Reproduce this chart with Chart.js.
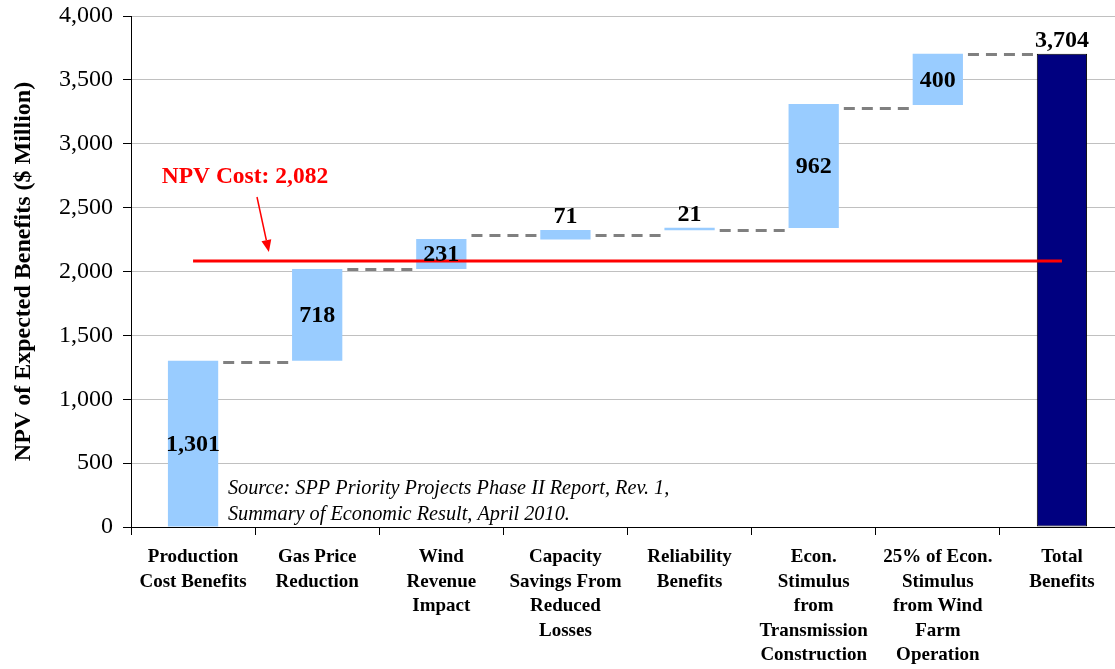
<!DOCTYPE html>
<html>
<head>
<meta charset="utf-8">
<script src="https://cdn.jsdelivr.net/npm/chart.js@4/dist/chart.umd.min.js"></script>
<style>
  html, body { margin: 0; padding: 0; background: #fff; overflow: hidden; }
  #wrap { position: absolute; left: 0; top: 0; width: 1125px; height: 669px; }
</style>
</head>
<body>
<div id="wrap"><canvas id="c" width="1125" height="669"></canvas></div>
<script>
// ---- data ----
const categories = [
  ["Production", "Cost Benefits"],
  ["Gas Price", "Reduction"],
  ["Wind", "Revenue", "Impact"],
  ["Capacity", "Savings From", "Reduced", "Losses"],
  ["Reliability", "Benefits"],
  ["Econ.", "Stimulus", "from", "Transmission", "Construction"],
  ["25% of Econ.", "Stimulus", "from Wind", "Farm", "Operation"],
  ["Total", "Benefits"]
];
const benefitValues = [1301, 718, 231, 71, 21, 962, 400, 3704];
const barBottoms = [0, 1301, 2019, 2250, 2322, 2340, 3303, 0];
const barTops = [1301, 2019, 2254, 2325, 2343, 3311, 3704, 3704];
const connectorLevels = [1295, 2020, 2285, 2285, 2325, 3280, 3704];
const npvCost = 2082;
const yMin = 0, yMax = 4000, yStep = 500;

// ---- styling (kept separate from data) ----
const barColors = ["#99ccff", "#99ccff", "#99ccff", "#99ccff", "#99ccff", "#99ccff", "#99ccff", "#000080"];
const barBorderWidths = [0, 0, 0, 0, 0, 0, 0, 1];
const labelPlacement = ["center", "center", "center", "top", "top", "center", "center", "top"];
const FONT = "'Liberation Serif', 'Times New Roman', serif";
const BAR_DS = 1;

Chart.defaults.font.family = FONT;
Chart.defaults.color = "#000";

const floating = barBottoms.map((b, i) => [b, barTops[i]]);

const connectorPlugin = {
  id: "connectors",
  afterDatasetsDraw(chart) {
    const meta = chart.getDatasetMeta(BAR_DS);
    const ys = chart.scales.y;
    const ctx = chart.ctx;
    ctx.save();
    ctx.strokeStyle = "#808080";
    ctx.lineWidth = 3;
    ctx.setLineDash([11, 7]);
    for (let i = 0; i < connectorLevels.length; i++) {
      const a = meta.data[i], b = meta.data[i + 1];
      const x1 = a.x + a.width / 2 + 5;
      const x2 = b.x - b.width / 2 - 3;
      const y = Math.round(ys.getPixelForValue(connectorLevels[i])) + 0.5;
      ctx.beginPath();
      ctx.moveTo(x1, y);
      ctx.lineTo(x2, y);
      ctx.stroke();
    }
    ctx.restore();
  }
};

const labelsPlugin = {
  id: "barLabels",
  afterDraw(chart) {
    const meta = chart.getDatasetMeta(BAR_DS);
    const ctx = chart.ctx;
    ctx.save();
    ctx.fillStyle = "#000";
    ctx.font = "bold 24px " + FONT;
    ctx.textAlign = "center";
    meta.data.forEach((el, i) => {
      const txt = benefitValues[i].toLocaleString("en-US");
      const top = Math.min(el.y, el.base);
      const bot = Math.max(el.y, el.base);
      if (labelPlacement[i] === "center") {
        ctx.textBaseline = "middle";
        ctx.fillText(txt, el.x, (top + bot) / 2 + 1);
      } else {
        ctx.textBaseline = "alphabetic";
        ctx.fillText(txt, el.x, top - 7);
      }
    });
    ctx.restore();
  }
};

const annotationPlugin = {
  id: "notes",
  afterDraw(chart) {
    const xs = chart.scales.x, ys = chart.scales.y;
    const ctx = chart.ctx;
    ctx.save();
    // NPV cost annotation
    ctx.fillStyle = "#ff0000";
    ctx.strokeStyle = "#ff0000";
    ctx.font = "bold 23.5px " + FONT;
    ctx.textAlign = "center";
    ctx.textBaseline = "middle";
    ctx.fillText("NPV Cost: " + npvCost.toLocaleString("en-US"), xs.getPixelForValue(0.418), ys.getPixelForValue(2740));
    const ax1 = xs.getPixelForValue(0.515), ay1 = ys.getPixelForValue(2583);
    const ax2 = xs.getPixelForValue(0.611), ay2 = ys.getPixelForValue(2153);
    const ang = Math.atan2(ay2 - ay1, ax2 - ax1);
    const hl = 12, hw = 5;
    const bx = ax2 - hl * Math.cos(ang), by = ay2 - hl * Math.sin(ang);
    ctx.lineWidth = 1.5;
    ctx.beginPath();
    ctx.moveTo(ax1, ay1);
    ctx.lineTo(bx, by);
    ctx.stroke();
    ctx.beginPath();
    ctx.moveTo(ax2, ay2);
    ctx.lineTo(bx + hw * Math.sin(ang), by - hw * Math.cos(ang));
    ctx.lineTo(bx - hw * Math.sin(ang), by + hw * Math.cos(ang));
    ctx.closePath();
    ctx.fill();
    // source note
    ctx.fillStyle = "#000";
    ctx.font = "italic 20.3px " + FONT;
    ctx.textAlign = "left";
    ctx.textBaseline = "middle";
    const sx = xs.getPixelForValue(0.281);
    const sy = ys.getPixelForValue(297);
    ctx.fillText("Source: SPP Priority Projects Phase II Report, Rev. 1,", sx, sy);
    ctx.fillText("Summary of Economic Result, April 2010.", sx, sy + 26);
    ctx.restore();
  }
};

new Chart(document.getElementById("c"), {
  type: "bar",
  data: {
    labels: categories,
    datasets: [
      {
        type: "line",
        label: "NPV Cost",
        data: categories.map(() => npvCost),
        borderColor: "#ff0000",
        borderWidth: 3,
        pointRadius: 0,
        fill: false,
        order: 0
      },
      {
        type: "bar",
        label: "Benefits",
        data: floating,
        backgroundColor: barColors,
        borderColor: "#000000",
        borderWidth: barBorderWidths,
        borderSkipped: false,
        barPercentage: 0.405,
        categoryPercentage: 1.0,
        order: 1
      }
    ]
  },
  options: {
    responsive: false,
    animation: false,
    devicePixelRatio: 1,
    layout: { padding: { top: 16, right: 1, left: 0, bottom: 0 } },
    plugins: { legend: { display: false }, tooltip: { enabled: false }, title: { display: false } },
    scales: {
      x: {
        grid: { display: true, drawOnChartArea: false, drawTicks: true, tickLength: 8, tickColor: "#000", offset: true },
        border: { display: true, color: "#000", width: 1 },
        ticks: {
          autoSkip: false, maxRotation: 0, minRotation: 0, padding: 10,
          font: { size: 19, weight: "bold", lineHeight: 1.29 }, color: "#000"
        },
        afterFit(scale) { scale.height = 142; scale.paddingLeft = 0; scale.paddingRight = 0; }
      },
      y: {
        min: yMin, max: yMax,
        grid: { color: "#c0c0c0", lineWidth: 1, drawTicks: true, tickLength: 8, tickColor: "#000" },
        border: { display: true, color: "#000", width: 1 },
        ticks: {
          stepSize: yStep, padding: 10, color: "#000",
          font: { size: 24 },
          callback: v => Number(v).toLocaleString("en-US")
        },
        title: {
          display: true, text: "NPV of Expected Benefits ($ Million)",
          font: { size: 24, weight: "bold" }, color: "#000",
          padding: { top: 9, bottom: 0 }
        },
        afterFit(scale) { scale.width = 131; scale.paddingTop = 0; scale.paddingBottom = 0; }
      }
    }
  },
  plugins: [connectorPlugin, labelsPlugin, annotationPlugin]
});
</script>
</body>
</html>
